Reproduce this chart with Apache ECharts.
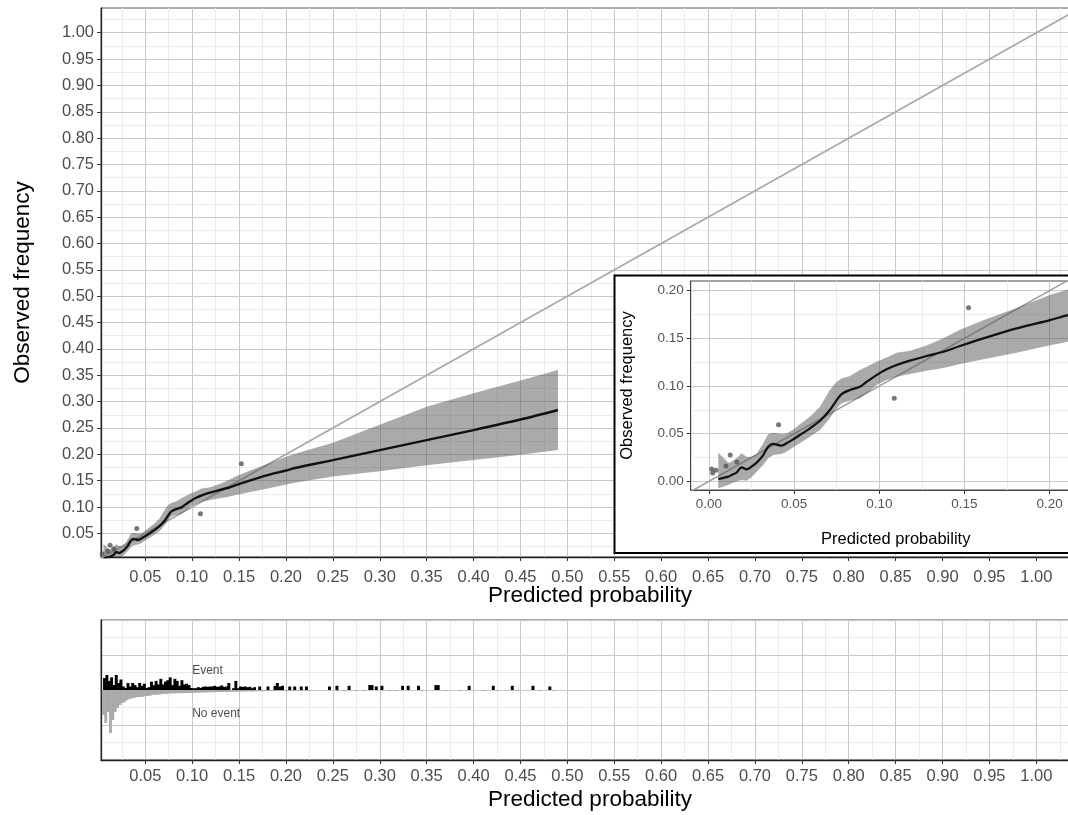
<!DOCTYPE html>
<html><head><meta charset="utf-8">
<script src="https://cdn.jsdelivr.net/npm/echarts@6/dist/echarts.min.js"></script>
<style>html,body{margin:0;padding:0;background:#fff}#c{width:1068px;height:815px}</style>
</head><body><div id="c"></div>
<script>
// ---- calibration curve (smoothed) ----
const curveX = [0.0055,0.0114,0.0133,0.0162,0.0192,0.0221,0.0250,0.0280,0.0319,0.0348,0.0378,0.0427,0.0456,0.0495,0.0534,0.0593,0.0652,0.0710,0.0750,0.0779,0.0828,0.0886,0.0926,0.0984,0.1043,0.1102,0.1180,0.1278,0.1376,0.1474,0.1611,0.1806,0.2002,0.2108,0.25,0.30,0.35,0.40,0.45,0.49];
const curveY = [0.0024,0.0049,0.0066,0.0091,0.0147,0.0126,0.0154,0.0196,0.0276,0.0364,0.0392,0.0374,0.0399,0.0441,0.0486,0.0556,0.0636,0.0748,0.0853,0.0916,0.0958,0.0993,0.1045,0.1115,0.1175,0.1220,0.1266,0.1315,0.1360,0.1420,0.1500,0.1605,0.1692,0.1745,0.189,0.208,0.227,0.246,0.266,0.284];
const bandHi = [0.030,0.0196,0.0206,0.0241,0.0294,0.0259,0.0259,0.0287,0.040,0.0497,0.051,0.0497,0.0503,0.0545,0.060,0.0678,0.0783,0.0958,0.1045,0.108,0.1105,0.1168,0.1203,0.1255,0.130,0.135,0.137,0.1425,0.150,0.159,0.169,0.182,0.1955,0.2014,0.222,0.256,0.29,0.316,0.34,0.36];
const bandLo = [-0.0073,-0.0038,-0.002,-0.0003,0.0014,0.0007,0.0042,0.0101,0.0171,0.0241,0.0276,0.0287,0.0311,0.0357,0.040,0.0469,0.0538,0.0661,0.0766,0.0818,0.0846,0.0871,0.0923,0.101,0.1063,0.1098,0.1126,0.1160,0.119,0.123,0.128,0.135,0.1427,0.1465,0.158,0.168,0.179,0.189,0.199,0.208];
// ---- grouped observed points ----
const pointX = [0.0016,0.0022,0.0041,0.0100,0.0125,0.0164,0.0409,0.1088,0.1524];
const pointY = [0.0129,0.0087,0.0115,0.0161,0.0276,0.0203,0.0594,0.0871,0.1822];
// ---- histogram (bins of width 0.0025) ----
const binW = 0.0025;
const eventDenseStart = 0.005;
const eventDense = [3.4,4.3,2.6,3.6,1.4,4.3,2.0,3.0,1.0,0.6,2.0,1.0,2.0,1.4,0.8,2.0,1.2,1.8,0.6,0.8,2.4,1.4,2.6,1.6,3.2,1.6,2.4,2.8,3.6,1.4,3.2,2.6,1.2,2.8,1.6,1.8,1.4,0.6,0.5,0.5,0.8,0.6,0.9,1.0,0.9,1.0,1.0,1.2,0.9,1.0,1.3,0.9,1.0,2.0,0,0.5,2.6,0.5,1.0,0.9,1.0,0.8,0.9,0.5,0.8];
const eventSparseX = [0.1717,0.1805,0.188,0.1905,0.193,0.196,0.2037,0.209,0.216,0.2215,0.246,0.254,0.267,0.289,0.2915,0.296,0.302,0.324,0.330,0.341,0.3595,0.362,0.395,0.4207,0.441,0.463,0.481];
const eventSparseH = [1,1,1.2,2,1,1.2,1,1,1,1,1,1.2,1.2,1.4,1.4,1.0,1.2,1.2,1.2,1.2,1.4,1.4,1.2,1.2,1.2,1.2,1.0];
const noEventStart = 0.0038;
const noEvent = [7.1,9.4,6.3,12.3,8.6,6.3,5.1,4.3,3.7,3.4,2.9,2.6,2.4,2.3,2.1,2.0,2.0,1.9,1.7,1.7,1.6,1.4,1.4,1.3,1.3,1.1,1.1,1.1,1.0,1.0,0.95,0.95,0.9,0.9,0.9,0.85,0.85,0.8,0.8,0.8,0.75,0.75,0.7,0.7,0.7,0.65,0.65,0.65,0.6,0.6,0.6,0.55,0.55,0.55,0.5,0.5,0.5,0.5,0.45,0.45,0.45,0.4,0.4,0.4,0.4,0.35,0.35,0.35,0.35,0.3,0.3,0.3,0.3,0.3,0.3,0.25,0.25,0.25,0.25,0.25,0.2,0.2,0.2,0.2,0.2,0.2,0.15,0.15,0.15,0.15];
const noEventSparseX = [0.255,0.262,0.275,0.283,0.31,0.318,0.345,0.37,0.385,0.41,0.425,0.447,0.47,0.485];
const noEventSparseH = [0.3,0.3,0.3,0.3,0.3,0.3,0.3,0.3,0.3,0.3,0.3,0.3,0.3,0.3];
// ---- tick values ----
const mainMajor = [0.05,0.10,0.15,0.20,0.25,0.30,0.35,0.40,0.45,0.50,0.55,0.60,0.65,0.70,0.75,0.80,0.85,0.90,0.95,1.00];
const mainMinor = [0.025,0.075,0.125,0.175,0.225,0.275,0.325,0.375,0.425,0.475,0.525,0.575,0.625,0.675,0.725,0.775,0.825,0.875,0.925,0.975,1.025];
const insetMajor = [0.00,0.05,0.10,0.15,0.20];
const insetMinor = [0.025,0.075,0.125,0.175,0.225];

const FONT = 'Liberation Sans, Arial, sans-serif';
const MAJOR_C = '#c9c9c9', MINOR_C = '#ebebeb';
const fmt = v => Number(v).toFixed(2);

const eventData = eventDense.map((h,i)=>[eventDenseStart + i*binW, h]).filter(d=>d[1]>0)
  .concat(eventSparseX.map((x,i)=>[x - binW/2, eventSparseH[i]]));
const noEventData = noEvent.map((h,i)=>[noEventStart + i*binW, -h])
  .concat(noEventSparseX.map((x,i)=>[x - binW/2, -noEventSparseH[i]]));
const curveData = curveX.map((x,i)=>[x, curveY[i]]);
const pointData = pointX.map((x,i)=>[x, pointY[i]]);

function majorAxis(o, labelMargin){
  return Object.assign({
    type:'value', splitLine:{show:true, lineStyle:{color:MAJOR_C, width:1}},
    axisLabel:{show:true, customValues:o.vals, formatter:fmt, color:'#4d4d4d', fontSize:16.5, fontFamily:FONT, margin:labelMargin},
    axisTick:{show:true, customValues:o.vals, length:4, lineStyle:{color:'#333'}},
    axisLine:{show:true, onZero:false, lineStyle:{color:'#222', width:1.3}},
    nameMoveOverlap:false,
    z:2
  }, o.extra);
}
function minorAxis(o){
  return Object.assign({
    type:'value', splitLine:{show:true, lineStyle:{color:MINOR_C, width:1}},
    axisLabel:{show:false, customValues:o.vals}, axisTick:{show:false, customValues:o.vals},
    axisLine:{show:false}, z:1
  }, o.extra);
}
function bandSeries(xi, yi, z){
  return {type:'custom', xAxisIndex:xi, yAxisIndex:yi, z:z, clip:true, silent:true,
    data:[[curveX[0], curveY[0]]],
    renderItem:(params, api)=>{
      const pts=[];
      for(let i=0;i<curveX.length;i++) pts.push(api.coord([curveX[i], bandHi[i]]));
      for(let i=curveX.length-1;i>=0;i--) pts.push(api.coord([curveX[i], bandLo[i]]));
      return {type:'polygon', shape:{points:pts}, style:{fill:'rgba(85,85,85,0.5)'}};
    }};
}
function histSeries(data, color){
  return {type:'custom', xAxisIndex:4, yAxisIndex:4, z:5, clip:true, silent:true, data:data,
    renderItem:(params, api)=>{
      const x=api.value(0), h=api.value(1);
      const p0=api.coord([x,0]), p1=api.coord([x+binW,h]);
      return {type:'rect', shape:{x:p0[0], y:Math.min(p0[1],p1[1]), width:p1[0]-p0[0]+0.6, height:Math.abs(p1[1]-p0[1])}, style:{fill:color}};
    }};
}

const MX = {min:0.0028, max:1.0455};
const MY = {min:0.0051, max:1.0469};
const IX = {min:-0.0107, max:0.23};
const IY = {min:-0.0091, max:0.2102};

const option = {
  animation:false,
  backgroundColor:'#fff',
  grid:[
    {left:101, top:8, width:978, height:549, show:true, borderColor:'#555', borderWidth:1, backgroundColor:'transparent', z:0, outerBoundsMode:'none', containLabel:false},
    {left:690.7, top:281, width:410, height:209, show:true, borderColor:'#444', borderWidth:1, backgroundColor:'#fff', z:11, outerBoundsMode:'none', containLabel:false},
    {left:101, top:620, width:978, height:140, show:true, borderColor:'#555', borderWidth:1, backgroundColor:'transparent', z:0, outerBoundsMode:'none', containLabel:false}
  ],
  graphic:[
    {type:'rect', z:10, shape:{x:614.5, y:275.5, width:470, height:277.5}, style:{fill:'#fff', stroke:'#000', lineWidth:2}}
  ],
  xAxis:[
    majorAxis({vals:mainMajor, extra:Object.assign({gridIndex:0, position:'bottom',
      name:'Predicted probability', nameLocation:'middle', nameGap:27,
      nameTextStyle:{fontSize:22.5, color:'#000', fontFamily:FONT}}, MX)}, 12),
    minorAxis({vals:mainMinor, extra:Object.assign({gridIndex:0, position:'top'}, MX)}),
    Object.assign(majorAxis({vals:insetMajor, extra:Object.assign({gridIndex:1, position:'bottom',
      name:'Predicted probability', nameLocation:'middle', nameGap:41,
      nameTextStyle:{fontSize:16.5, color:'#000', fontFamily:FONT}}, IX)}, 7),
      {z:13, axisLabel:{customValues:insetMajor, formatter:fmt, color:'#555', fontSize:13.5, fontFamily:FONT, margin:7},
       axisLine:{show:true, onZero:false, lineStyle:{color:'#444', width:1}}}),
    Object.assign(minorAxis({vals:insetMinor, extra:Object.assign({gridIndex:1, position:'top'}, IX)}), {z:12}),
    majorAxis({vals:mainMajor, extra:Object.assign({gridIndex:2, position:'bottom',
      name:'Predicted probability', nameLocation:'middle', nameGap:28,
      nameTextStyle:{fontSize:22.5, color:'#000', fontFamily:FONT}}, MX)}, 8),
    minorAxis({vals:mainMinor, extra:Object.assign({gridIndex:2, position:'top'}, MX)})
  ],
  yAxis:[
    majorAxis({vals:mainMajor, extra:Object.assign({gridIndex:0, position:'left',
      name:'Observed frequency', nameLocation:'middle', nameGap:67,
      nameTextStyle:{fontSize:22.5, color:'#000', fontFamily:FONT}}, MY)}, 7),
    minorAxis({vals:mainMinor, extra:Object.assign({gridIndex:0, position:'right'}, MY)}),
    Object.assign(majorAxis({vals:insetMajor, extra:Object.assign({gridIndex:1, position:'left',
      name:'Observed frequency', nameLocation:'middle', nameGap:55,
      nameTextStyle:{fontSize:16.5, color:'#000', fontFamily:FONT}}, IY)}, 7),
      {z:13, axisLabel:{customValues:insetMajor, formatter:fmt, color:'#555', fontSize:13.5, fontFamily:FONT, margin:7},
       axisLine:{show:true, onZero:false, lineStyle:{color:'#444', width:1}}}),
    Object.assign(minorAxis({vals:insetMinor, extra:Object.assign({gridIndex:1, position:'right'}, IY)}), {z:12}),
    {type:'value', gridIndex:2, min:-20, max:20, interval:10, axisLabel:{show:false}, axisTick:{show:false},
      axisLine:{show:true, lineStyle:{color:'#222', width:1.3}},
      splitLine:{show:true, lineStyle:{color:MAJOR_C}}, minorTick:{show:false, splitNumber:2},
      minorSplitLine:{show:true, lineStyle:{color:MINOR_C}}, z:2},
    {type:'value', gridIndex:2, min:-20, max:20, show:false}
  ],
  series:[
    {type:'line', xAxisIndex:0, yAxisIndex:0, z:2, symbol:'none', silent:true, data:[[-0.1,-0.1],[1.3,1.3]], lineStyle:{color:'#aaa', width:1.8}},
    bandSeries(0,0,3),
    {type:'line', xAxisIndex:0, yAxisIndex:0, z:4, symbol:'none', smooth:0.3, silent:true, data:curveData, lineStyle:{color:'#111', width:2.4}},
    {type:'scatter', xAxisIndex:0, yAxisIndex:0, z:5, symbolSize:5, silent:true, data:pointData, itemStyle:{color:'#555'}},

    {type:'line', xAxisIndex:2, yAxisIndex:2, z:14, symbol:'none', silent:true, data:[[-0.1,-0.1],[1.3,1.3]], lineStyle:{color:'#a0a0a0', width:1.6}},
    bandSeries(2,2,15),
    {type:'line', xAxisIndex:2, yAxisIndex:2, z:16, symbol:'none', smooth:0.3, silent:true, data:curveData, lineStyle:{color:'#111', width:2.2}},
    {type:'scatter', xAxisIndex:2, yAxisIndex:2, z:17, symbolSize:5, silent:true, data:pointData, itemStyle:{color:'#555'}},

    histSeries(noEventData, '#aaaaaa'),
    histSeries(eventData, '#000000'),
    {type:'scatter', xAxisIndex:4, yAxisIndex:4, z:6, symbolSize:0, silent:true,
      data:[[0.1, 5.6, 'Event'],[0.1, -6.9, 'No event']],
      label:{show:true, position:'right', distance:0, formatter:p=>p.data[2], fontSize:12, color:'#1a1a1a', fontFamily:FONT}}
  ]
};
const chart = echarts.init(document.getElementById('c'), null, {renderer:'canvas'});
chart.setOption(option);
</script></body></html>
